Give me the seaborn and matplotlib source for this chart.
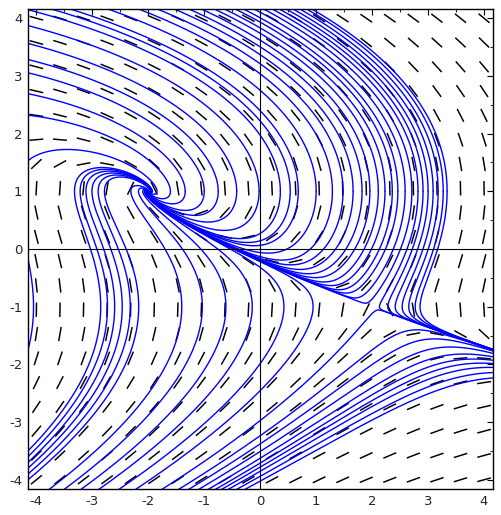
import numpy as np
import pandas as pd
import matplotlib
matplotlib.use("Agg")
import matplotlib.pyplot as plt
import seaborn as sns

# phase portrait of  x' = y^2 - 1,  y' = -x - 2y
# seed points: where the curves turn (vertical tangent on y = 1)
# and where the other curves cross the frame
turn_x = [-1.34, -1.0, -0.75, -0.42, -0.02, 0.36, 0.68, 1.0, 1.29, 1.48, 1.66, 1.82,
          1.96, 2.11, 2.23, 2.36, 2.46, 2.59, 2.71, 2.82, 2.91, 3.0, 3.09, 3.18,
          3.27, 3.34]
left_y = [1.53, 2.32, -3.5, -3.6, -3.7, -3.8, -3.9, -4.0, -1.75]
top_x = [-3.7]
bottom_x = [-3.75, -3.48, -3.18, -2.86, -2.5, -2.2, -1.73, -1.43, -1.25, -1.07, -0.9,
            -0.77, -0.66, -0.54, -0.39, -0.24]
eq_sink = (-2.0, 1.0)
lim = 4.15


def field(x, y):
    return y**2 - 1.0, -x - 2.0 * y


def trace(starts, h=0.01, nmax=3000):
    curves = []
    for sign in (1, -1):
        p = np.array(starts, float)
        act = np.ones(len(p), bool)
        path = [p.copy()]

        def d(q):
            vx, vy = field(q[:, 0], q[:, 1])
            n = np.hypot(vx, vy) + 1e-12
            return sign * np.stack([vx / n, vy / n], 1)

        for _ in range(nmax):
            k1 = d(p)
            k2 = d(p + h / 2 * k1)
            k3 = d(p + h / 2 * k2)
            k4 = d(p + h * k3)
            newp = p + h / 6 * (k1 + 2 * k2 + 2 * k3 + k4)
            p = np.where(act[:, None], newp, p)
            path.append(p.copy())
            near = np.hypot(p[:, 0] - eq_sink[0], p[:, 1] - eq_sink[1]) < 0.015
            act &= (np.abs(p).max(1) < lim + 0.05) & ~near
            if not act.any():
                break
        arr = np.array(path)
        for i in range(len(starts)):
            seg = arr[:, i, :]
            keep = np.r_[True, np.any(np.diff(seg, axis=0) != 0, axis=1)]
            curves.append(seg[keep])
    return curves


starts = ([(x, 1.0) for x in turn_x] + [(-lim, y) for y in left_y]
          + [(x, lim) for x in top_x] + [(x, -lim) for x in bottom_x])
frames = []
for k, c in enumerate(trace(starts)):
    if len(c) > 2:
        frames.append(pd.DataFrame({"x": c[:, 0], "y": c[:, 1], "curve": k}))
df = pd.concat(frames, ignore_index=True)

sns.set_style("white")
plt.rcParams["axes.unicode_minus"] = False
fig = plt.figure(figsize=(5.02, 5.15), dpi=100)
ax = fig.add_axes([28 / 502, 26 / 515, 465 / 502, 480 / 515])

# direction field dashes
g = np.linspace(-4, 4, 20)
gx, gy = np.meshgrid(g, g)
vx, vy = field(gx, gy)
n = np.hypot(vx, vy)
ax.quiver(gx, gy, vx / n, vy / n, angles="xy", scale_units="xy", scale=1 / 0.25,
          headwidth=0, headlength=0, headaxislength=0, pivot="middle",
          width=0.0032, color="black", zorder=1)

sns.lineplot(data=df, x="x", y="y", units="curve", estimator=None, sort=False,
             color="blue", lw=1.0, ax=ax, zorder=2)

ax.axhline(0, color="black", lw=0.8, zorder=3)
ax.axvline(0, color="black", lw=0.8, zorder=3)
ax.set_xlim(-lim, 4.16)
ax.set_ylim(-4.16, 4.16)
ax.set_xlabel("")
ax.set_ylabel("")
ax.set_xticks(range(-4, 5))
ax.set_yticks(range(-4, 5))
ax.set_xticks(np.arange(-4, 4.01, 0.5), minor=True)
ax.set_yticks(np.arange(-4, 4.01, 0.5), minor=True)
ax.tick_params(which="both", direction="in", top=True, right=True, labelsize=9.5,
               color="black", pad=4)
ax.tick_params(which="major", length=4, width=0.8)
ax.tick_params(which="minor", length=2, width=0.6)
for s in ax.spines.values():
    s.set_color("black")
    s.set_linewidth(1.0)
fig.savefig("out.png", dpi=100)
